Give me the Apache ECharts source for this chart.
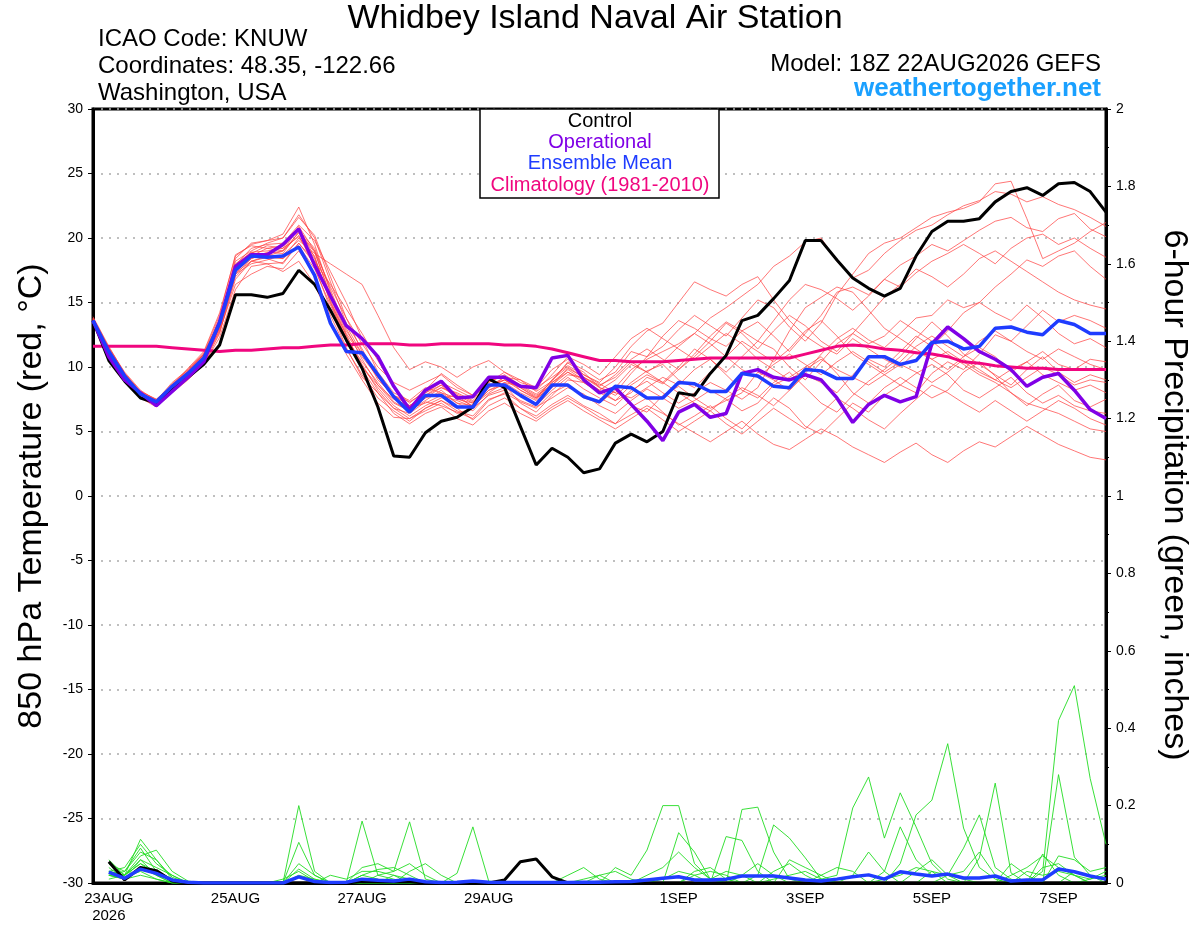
<!DOCTYPE html>
<html><head><meta charset="utf-8">
<script src="https://cdn.jsdelivr.net/npm/echarts/dist/echarts.min.js"></script>
<style>html,body{margin:0;padding:0;background:#fff}#chart{width:1200px;height:927px}</style>
</head><body><div id="chart"></div>
<script>
// ---------- axis / labels ----------
const forecastHours = []; for (let h = 0; h <= 384; h += 6) forecastHours.push(String(h));
const tickIndex = [1, 9, 17, 25, 37, 45, 53, 61];
const tickText = ['23AUG\n2026', '25AUG', '27AUG', '29AUG', '1SEP', '3SEP', '5SEP', '7SEP'];

// ---------- 850 hPa temperature (°C), 6-hourly from 18Z 22AUG ----------
const control = [13.6,10.5,8.9,7.6,7.2,8.2,9.2,10.2,11.7,15.6,15.6,15.4,15.7,17.5,16.4,14.4,12.1,9.9,6.9,3.1,3.0,4.9,5.8,6.1,6.9,9.1,8.4,5.4,2.4,3.7,3.0,1.8,2.1,4.1,4.8,4.2,5.0,8.0,7.8,9.5,10.9,13.6,14.0,15.3,16.7,19.8,19.8,18.3,16.9,16.1,15.5,16.1,18.6,20.5,21.3,21.3,21.5,22.8,23.6,23.9,23.3,24.2,24.3,23.6,22.0];
const operational = [13.6,10.8,9.0,8.0,7.0,8.1,9.2,10.4,13.5,17.8,18.7,18.7,19.5,20.7,17.9,15.5,13.2,12.2,10.8,8.5,6.7,8.2,8.9,7.6,7.7,9.2,9.2,8.5,8.4,10.7,10.9,9.0,8.0,8.4,7.1,5.8,4.3,6.5,7.1,6.1,6.4,9.5,9.8,9.2,9.0,9.4,9.0,7.6,5.7,7.1,7.8,7.3,7.7,11.8,13.1,12.2,11.2,10.6,9.8,8.5,9.2,9.5,8.2,6.7,6.0];
const ensembleMean = [13.6,11.2,9.3,7.9,7.3,8.5,9.5,10.7,13.4,17.5,18.6,18.5,18.6,19.3,17.1,13.4,11.2,11.1,9.4,7.7,6.5,7.8,7.8,6.9,6.9,8.6,8.6,7.8,7.1,8.6,8.6,7.7,7.3,8.5,8.4,7.6,7.6,8.8,8.7,8.1,8.1,9.5,9.3,8.5,8.4,9.8,9.7,9.1,9.1,10.8,10.8,10.2,10.5,11.9,12.0,11.4,11.6,13.0,13.1,12.7,12.5,13.6,13.3,12.6,12.6];
const climatology = [11.6,11.6,11.6,11.6,11.6,11.5,11.4,11.3,11.2,11.3,11.3,11.4,11.5,11.5,11.6,11.7,11.7,11.8,11.8,11.8,11.7,11.7,11.8,11.8,11.8,11.8,11.7,11.7,11.6,11.4,11.1,10.8,10.5,10.5,10.4,10.4,10.4,10.5,10.6,10.7,10.7,10.7,10.7,10.7,10.7,11.0,11.3,11.6,11.7,11.6,11.4,11.3,11.1,11.0,10.8,10.4,10.3,10.1,10.0,9.9,9.9,9.8,9.8,9.8,9.8];

const member01 = [13.8,11.4,9.2,7.6,7.0,8.6,9.9,11.2,14.2, 18.6,19.5,19.8,20.3,22.4, 19.5,15.8,12.8,11.0,9.2,7.6,6.9, 8.0,8.6,7.5,7.2,8.9,9.3,8.2,7.5,9.0,10.3,9.6,8.4,8.0,9.5,10.8,11.6, 12.9,14.0,13.2,12.4,13.8,15.2,14.6,13.1,12.0,13.4,15.6,17.2,18.8,19.6, 20.0,20.8,21.6,22.0,22.3,22.8,24.2,24.4,21.5,18.4,19.0,19.6,20.5,21.2];
const member02 = [13.4,11.0,9.0,7.8,7.4,8.8,9.8,11.0,13.0, 17.0,18.2,18.6,19.0,20.8, 18.5,15.0,12.5,10.0,8.4,7.0,6.2, 7.0,7.6,7.8,6.9,8.2,8.6,7.2,6.5,7.8,9.0,8.8,8.0,8.4,9.8,10.6,11.2, 11.8,12.6,13.8,14.6,15.5,16.4,17.8,18.6,19.7,20.0,18.2,16.9,17.5,18.8, 19.8,20.6,21.0,21.8,22.5,22.9,23.6,23.4,22.8,23.2,22.6,22.2,21.6,20.9];
const member03 = [13.7,11.3,9.5,8.1,7.5,8.3,9.2,10.4,12.9, 17.8,18.9,18.4,18.0,19.6, 18.2,16.4,14.5,12.6,10.5,8.4,7.2, 8.2,9.5,8.6,7.8,8.5,9.2,9.0,8.1,8.9,10.4,9.8,9.0,9.6,11.2,10.8,12.4, 13.6,13.0,12.2,11.6,12.8,13.5,12.4,11.2,12.6,14.0,15.8,16.2,15.6,16.8, 17.9,18.6,19.5,19.0,19.8,20.6,21.3,21.6,20.8,20.5,21.5,21.9,20.7,20.1];
const member04 = [13.5,11.1,9.3,7.8,7.1,8.4,9.6,10.9,13.8, 17.9,19.2,19.5,19.6,21.0, 19.8,17.4,15.0,12.2,9.6,8.0,7.4, 8.4,8.0,7.2,7.0,8.0,8.8,8.5,7.8,8.6,9.6,9.0,8.2,7.4,8.0,9.2,8.7, 9.8,11.0,12.4,13.5,12.8,12.0,13.6,15.2,16.4,16.0,15.3,14.4,15.5,16.8, 16.2,17.3,18.2,18.8,19.5,18.8,18.0,19.2,20.0,20.3,19.5,20.0,19.2,18.5];
const member05 = [13.6,11.2,9.1,7.7,7.2,8.7,9.8,11.1,14.0, 18.7,19.4,19.2,19.0,20.2, 17.8,14.5,11.5,9.2,8.0,6.8,6.4, 7.3,7.0,6.5,6.0,7.4,8.0,7.3,6.8,8.0,8.6,7.6,7.2,8.2,7.0,6.5,7.8, 8.5,7.6,6.8,7.4,8.0,9.6,9.0,8.2,9.5,11.0,12.2,13.0,12.1,11.5, 12.6,13.8,14.0,15.2,14.6,15.0,16.2,17.2,18.3,17.8,18.6,19.0,17.8,16.8];
const member06 = [13.5,11.0,9.2,8.0,7.4,8.2,9.4,10.6,12.8, 16.4,17.2,17.8,17.6,19.0, 17.2,14.0,11.4,9.4,7.6,6.6,5.8, 6.8,7.4,6.8,5.9,7.0,7.6,6.8,6.2,7.1,7.8,7.0,6.4,5.6,6.9,7.6,6.5, 5.5,6.2,7.0,6.0,5.2,6.4,7.6,6.8,5.4,4.8,6.0,7.2,6.5,7.8, 8.6,8.0,9.5,10.4,9.8,11.0,12.5,12.0,13.2,14.4,13.5,14.0,13.6,13.0];
const member07 = [13.7,11.4,9.4,8.0,7.3,8.4,9.4,10.5,13.1, 17.4,18.4,18.9,18.8,20.5, 19.0,16.2,13.8,11.8,10.0,8.8,8.2, 8.8,9.4,8.4,7.8,8.8,9.6,9.0,8.4,9.8,10.6,9.4,8.8,10.0,11.6,12.8,13.4, 15.0,16.6,16.0,15.5,16.4,17.0,15.2,13.6,12.4,11.6,11.0,12.2,11.4,10.6, 10.0,11.2,10.6,9.8,10.8,11.5,10.8,9.6,10.4,11.2,10.2,9.8,10.6,10.4];
const member08 = [13.8,11.5,9.6,8.2,7.4,8.1,9.1,10.2,12.6, 17.2,18.0,18.3,18.7,19.8, 18.8,18.0,17.2,16.4,14.0,11.5,9.8, 10.4,10.0,9.2,10.0,10.5,9.6,8.8,8.4,9.2,10.1,9.4,8.7,8.0,7.6,8.4,9.2, 8.6,9.8,10.6,9.4,8.2,7.6,8.8,9.6,8.4,7.2,6.5,7.8,8.9,9.8, 10.8,12.2,13.5,12.4,11.0,10.2,9.4,8.6,9.8,10.8,9.6,8.8,9.4,9.0];
const member09 = [13.4,11.0,9.1,7.6,6.9,8.0,9.0,10.2,12.3, 16.0,17.8,18.0,17.4,18.2, 16.4,13.6,11.0,9.0,7.2,6.1,6.0, 6.6,7.2,6.4,6.8,7.8,8.2,7.4,6.9,7.6,8.4,7.9,7.0,6.4,7.4,8.3,7.6, 6.8,7.4,8.2,7.5,6.6,7.2,8.6,9.2,10.0,10.8,9.5,8.0,7.2,8.4, 9.2,8.4,7.6,8.2,9.6,10.4,9.3,8.0,7.0,7.9,8.6,7.4,6.9,7.5];
const member10 = [13.9,11.6,9.5,8.1,7.5,8.6,9.7,11.0,13.6, 18.2,19.0,19.6,20.0,21.6, 20.2,17.0,13.8,11.2,9.0,7.8,7.0, 7.8,8.4,8.0,7.4,8.6,9.0,8.2,7.6,8.4,9.4,9.2,8.4,7.8,8.8,9.7,10.2, 9.0,8.4,9.6,10.8,12.0,11.2,10.4,11.4,12.8,13.6,12.4,11.0,10.2,9.4, 8.6,9.5,10.2,9.4,8.2,7.6,8.4,9.2,8.0,7.2,7.8,7.0,6.6,6.4];
const member11 = [13.6,11.2,9.4,8.0,7.2,8.3,9.5,10.7,13.2, 17.6,18.8,18.7,18.4,20.0, 18.6,15.0,12.0,9.8,8.0,6.4,5.6, 6.4,6.9,6.0,5.5,6.6,7.2,6.4,5.8,6.7,7.4,6.6,5.9,5.2,6.0,6.8,5.9, 5.0,5.8,6.6,5.6,4.8,5.8,6.8,6.0,5.2,6.4,7.6,6.8,5.9,5.2, 6.4,7.5,8.6,8.0,7.2,6.5,7.4,6.6,5.8,6.6,7.4,6.8,6.0,5.5];
const member12 = [13.5,11.1,9.2,7.9,7.3,8.5,9.6,10.8,13.5, 17.6,18.6,19.2,19.4,20.6, 19.2,16.0,13.0,10.6,8.6,7.2,6.6, 7.6,8.0,7.6,7.0,8.2,8.8,8.0,7.4,8.8,9.8,9.0,8.2,9.0,10.2,9.6,8.8, 10.0,11.4,10.6,9.6,10.8,12.0,11.4,10.0,9.0,10.4,11.8,12.6,11.8,12.4, 13.6,12.8,12.0,11.0,10.2,9.4,8.8,8.0,7.2,6.8,6.4,5.8,5.2,5.0];
const member13 = [13.6,11.3,9.3,7.9,7.3,8.6,9.7,11.0,13.7, 18.0,18.9,19.0,19.2,20.9, 19.0,15.4,12.4,10.2,8.2,6.8,6.0, 6.8,7.4,6.6,6.2,7.5,7.9,6.8,6.0,6.9,7.6,6.9,6.1,5.6,6.3,7.0,6.4, 5.6,4.9,4.2,5.0,5.8,4.8,4.0,3.6,4.4,5.2,4.6,3.8,3.2,2.6, 3.4,4.1,3.2,2.6,3.5,4.2,3.8,4.6,5.4,4.7,4.0,3.5,3.0,2.8];
const member14 = [13.7,11.2,9.3,7.8,7.1,8.2,9.3,10.4,12.7, 16.8,18.2,18.5,18.4,19.4, 17.6,14.8,12.2,10.4,8.8,7.3,6.6, 7.4,8.2,7.2,6.6,7.9,8.4,7.8,7.0,8.2,9.2,8.3,7.6,7.0,8.2,8.9,8.0, 7.2,8.0,8.8,8.2,7.5,8.4,10.6,12.8,14.6,15.4,16.2,15.8,14.4,13.0, 12.2,11.4,10.6,11.2,10.4,9.6,9.0,9.8,10.4,9.4,8.8,8.2,8.6,8.0];
const member15 = [13.5,11.0,9.2,7.9,7.3,8.4,9.5,10.7,13.2, 17.3,18.2,18.0,18.1,19.6, 18.0,15.6,13.2,11.0,9.4,7.8,7.3, 8.0,8.8,8.2,7.6,8.4,9.2,8.6,7.9,8.8,9.6,8.8,8.0,7.4,8.6,9.4,8.8, 8.0,7.2,6.6,7.6,8.4,7.8,7.0,8.2,9.4,8.8,8.0,9.4,10.6,10.0, 11.2,12.4,11.6,12.8,14.2,15.0,14.2,13.6,14.8,13.8,12.6,11.8,12.2,11.5];
const member16 = [13.6,11.3,9.4,8.0,7.4,8.5,9.6,10.8,13.3, 17.7,18.8,19.4,19.2,20.1, 18.4,15.2,12.2,10.0,8.6,7.5,7.0, 7.8,8.6,7.9,7.3,8.4,9.0,8.4,7.7,8.6,9.9,9.2,8.5,9.4,10.6,11.4,10.6, 9.8,10.8,12.0,13.4,12.6,11.4,12.8,14.0,13.2,12.0,11.2,12.6,14.0,15.4, 16.4,17.6,17.0,16.2,17.2,18.4,19.0,18.2,17.4,16.6,15.8,15.2,14.8,14.5];
const member17 = [13.4,11.0,9.0,7.7,7.2,8.3,9.3,10.5,13.0, 17.2,18.4,18.8,19.0,20.4, 18.9,15.6,12.6,10.8,9.2,7.6,6.8, 7.2,7.8,7.4,6.9,8.4,9.0,8.4,7.6,9.0,10.0,9.2,8.6,9.2,10.4,9.6,10.4, 11.6,12.6,11.8,10.8,9.8,9.2,10.2,11.0,10.2,9.4,10.4,11.2,10.4,9.6, 10.4,11.6,12.4,11.6,10.8,12.0,12.8,12.0,11.2,10.6,11.4,10.8,10.2,9.8];
const member18 = [13.8,11.5,9.5,8.0,7.3,8.5,9.7,10.9,13.4, 18.4,19.6,19.8,20.0,21.8, 20.0,16.6,13.4,11.4,9.2,7.8,7.0, 7.6,8.4,7.8,7.2,8.8,9.4,8.6,8.2,9.4,10.8,10.2,9.4,10.8,12.2,13.0,12.2, 11.4,10.6,11.6,12.6,11.8,10.6,9.8,9.0,9.8,10.6,9.8,9.2,8.6,9.4, 10.2,9.6,8.8,9.6,10.6,9.8,9.0,8.4,9.2,10.0,9.4,8.6,9.0,8.8];

// ---------- 6-hour precipitation (inches) ----------
const precipControl = [null,.055,.008,.04,.032,.005,0,0,0,0,0,0,0, 0,0,0,0,.004,.003,.004,.003,0,0,0,0,0, .008,.055,.062,.016,0,0,.002,0,0,0,0,0,0, 0,0,0,0,0,0,0,0,0,0,0,0,0, 0,0,0,0,0,0,0,0,0,0,0,0,0];
const precipMean = [null,.028,.012,.036,.025,.008,.002,0,0,0,0,0,0, .016,.004,.001,.002,.01,.007,.005,.01,.003,.001,.002,.005,.002, .001,.001,.001,.001,.001,.002,.002,.003,.004,.008,.012,.016,.008, .008,.01,.018,.018,.018,.013,.008,.005,.01,.016,.021,.01,.029, .023,.018,.023,.013,.013,.018,.005,.008,.008,.036,.029,.018,.01];
const precip01 = [null,.03,.02,.113,.06,.01,0,0,0,0,0,0,0, .2,.03,0,0,0,0,0,0,0,0,0,0,0, 0,0,0,0,0,0,0,.04,.02,.085,.2,.2,.05, .01,0,0,0,0,0,0,0,0,0,0,0,0, 0,0,0,0,0,0,0,0,.03,.42,.51,.27,.10];
const precip02 = [null,.05,.02,.07,.085,.03,.005,0,0,0,0,0,0, .105,.02,0,0,.02,.01,0,0,0,0,0,0,0, 0,0,0,0,0,0,0,0,0,0,0,.13,.08, .01,0,0,0,0,0,0,0,0,.02,.08,.03,0, 0,0,0,0,0,0,0,0,0,.28,.067,.02,.01];
const precip03 = [null,.02,.03,.09,.03,.01,0,0,0,0,0,0,0, .036,.01,0,0,.16,.02,.01,0,0,0,0,0,0, 0,0,0,0,0,0,0,0,0,0,0,0,0, 0,.12,.11,.03,0,0,0,0,0,0,0,0,0, 0,0,0,0,.065,.258,.026,0,0,0,0,0,0];
const precip04 = [null,.04,.01,.06,.04,.02,0,0,0,0,0,0,0, 0,0,0,0,0,.02,.03,.158,.01,0,0,0,0, 0,0,0,0,0,0,0,0,0,0,0,0,0, 0,0,.19,.196,.08,.01,0,0,0,0,0,0,0, .03,.06,.02,0,0,0,0,0,.075,.02,0,0,0];
const precip05 = [null,.01,.02,.05,.02,.01,0,0,0,0,0,0,.01, .03,.005,0,0,0,0,0,0,0,0,.025,.145,.005, 0,0,0,0,0,0,0,0,0,0,0,0,0, 0,0,0,.02,.15,.116,.065,.01,0,0,0,0,0, 0,0,0,0,0,0,0,.03,.02,.03,.02,0,0];
const precip06 = [null,.03,.04,.1,.05,.02,0,0,0,0,0,0,0, 0,0,.02,.01,.03,.03,.02,0,0,0,0,0,0, 0,0,0,0,0,.01,.02,0,0,0,0,0,0, 0,0,0,0,0,0,0,.01,.02,.194,.274,.116,.233, .145,.05,.01,0,0,0,0,0,0,0,0,0,0];
const precip07 = [null,.02,.01,.04,.02,0,0,0,0,0,0,0,0, 0,0,0,0,.02,.035,.04,.02,0,0,0,0,0, 0,0,0,0,.02,.04,.01,0,0,0,0,0,0, 0,0,0,0,0,0,0,0,0,0,0,.03,.145, .06,.02,.02,.03,.08,.02,0,0,.04,.05,.02,0,0];
const precip08 = [null,.05,.03,.08,.06,.015,0,0,0,0,0,0,0, 0,0,0,0,0,0,0,0,0,0,0,0,0, 0,0,0,0,0,0,0,0,0,0,.01,.03,.02, 0,0,0,0,0,0,0,0,0,0,0,0,.05, .176,.214,.36,.142,.04,.01,0,0,0,0,0,.01,.03];
const precip09 = [null,.02,.015,.03,.01,0,0,0,0,0,0,0,0, .02,.01,0,0,0,0,.02,.01,0,0,0,0,0, 0,0,0,0,0,0,0,0,0,0,0,0,.02, .03,.02,0,0,.03,.05,.02,0,0,0,0,0,0, 0,0,.02,.09,.176,.04,.01,0,0,0,0,0,0];
const precip10 = [null,.03,.02,.06,.02,0,0,0,0,0,0,0,0, 0,0,0,0,0,0,0,0,0,0,0,0,0, 0,0,0,0,0,0,.02,.03,.01,0,0,0,.03, .04,.01,0,0,.01,.02,.03,.01,0,0,0,.01,.02, .04,.03,0,0,0,0,.02,.04,.07,.04,.02,.01,.02];
const precip11 = [null,.06,.02,.05,.03,.01,0,0,0,0,0,0,0, .05,.02,0,0,.04,.05,.03,.05,.02,0,0,0,0, 0,0,0,0,0,0,0,0,0,.02,.04,.08,.04, .01,0,.02,.05,.02,0,0,.02,.04,.03,0,0,0, 0,0,0,0,0,0,.05,.02,0,0,.03,.02,0];
const precip12 = [null,.02,.01,.02,.01,0,0,0,0,0,0,0,0, 0,0,0,0,0,0,0,.03,.05,.02,0,0,0, 0,0,0,0,0,0,0,0,0,0,0,0,0, .01,.03,.02,0,0,.06,.04,.02,0,0,0,0,0, 0,.03,.02,.01,0,0,0,0,0,.07,.06,.03,.04];

const tempMembers = [member01,member02,member03,member04,member05,member06,member07,member08,member09,member10,member11,member12,member13,member14,member15,member16,member17,member18];
const precipMembers = [precip01,precip02,precip03,precip04,precip05,precip06,precip07,precip08,precip09,precip10,precip11,precip12];

// ---------- chart ----------
const FONT = '"Liberation Sans", Arial, Helvetica, sans-serif';
const chart = echarts.init(document.getElementById('chart'), null, {renderer: 'canvas'});

function line(data, axis, color, width, z, opacity) {
  return {type: 'line', data: data, yAxisIndex: axis, symbol: 'none', silent: true, z: z,
    lineStyle: {color: color, width: width, opacity: opacity == null ? 1 : opacity},
    emphasis: {disabled: true}};
}
function txt(text, x, y, size, color, align, extra) {
  return Object.assign({type: 'text', x: x, y: y, z: 120,
    style: {text: text, fill: color, font: size + 'px ' + FONT, textAlign: align, align: align,
      textVerticalAlign: 'middle', verticalAlign: 'middle'}}, extra || {});
}

const series = [];
tempMembers.forEach(d => series.push(line(d, 0, '#ff4040', 0.9, 2, 0.8)));
precipMembers.forEach(d => series.push(line(d, 1, '#22dd22', 0.9, 3, 1)));
series.push(line(climatology, 0, '#f0067f', 3, 5));
series.push(line(precipControl, 1, '#000000', 3, 6));
series.push(line(precipMean, 1, '#1f3cff', 3.5, 7));
series.push(line(control, 0, '#000000', 3, 8));
series.push(line(operational, 0, '#8000e6', 3.5, 9));
series.push(line(ensembleMean, 0, '#1f3cff', 3.5, 10));

const boldTitle = txt('weathertogether.net', 1101, 89, 26, '#1aa0ff', 'right');
boldTitle.style.font = 'bold 26px ' + FONT;

const option = {
  animation: false,
  backgroundColor: '#ffffff',
  grid: {left: 93, right: 94, top: 109, bottom: 44, show: true, borderColor: '#000', borderWidth: 3, backgroundColor: 'transparent'},
  xAxis: {
    type: 'category', data: forecastHours, boundaryGap: false,
    axisLine: {show: true, onZero: false, lineStyle: {color: '#000', width: 3}},
    axisTick: {show: false},
    axisLabel: {
      interval: (i) => tickIndex.indexOf(i) >= 0,
      formatter: (v, i) => { const k = tickIndex.indexOf(i); return k >= 0 ? tickText[k] : ''; },
      color: '#000', fontSize: 15, fontFamily: FONT, margin: 7, lineHeight: 17
    },
    splitLine: {show: false}
  },
  yAxis: [
    {type: 'value', min: -30, max: 30, interval: 5, position: 'left',
      axisLine: {show: true, onZero: false, lineStyle: {color: '#000', width: 3}},
      axisTick: {show: true, length: 5, lineStyle: {color: '#000', width: 1}},
      axisLabel: {color: '#000', fontSize: 14, fontFamily: FONT, margin: 10},
      splitLine: {show: true, lineStyle: {color: '#aaaaaa', type: [2, 6], width: 1.5}}},
    {type: 'value', min: 0, max: 2, interval: 0.2, position: 'right',
      axisLine: {show: true, onZero: false, lineStyle: {color: '#000', width: 3}},
      axisTick: {show: true, length: 5, lineStyle: {color: '#000', width: 1}},
      minorTick: {show: true, splitNumber: 2, length: 3, lineStyle: {color: '#000', width: 1}},
      axisLabel: {color: '#000', fontSize: 14, fontFamily: FONT, margin: 10,
        formatter: (v) => String(Math.round(v * 10) / 10)},
      splitLine: {show: false}}
  ],
  graphic: [
    txt('Whidbey Island Naval Air Station', 595, 19, 34, '#000', 'center'),
    txt('ICAO Code: KNUW', 98, 39, 24, '#000', 'left'),
    txt('Coordinates: 48.35, -122.66', 98, 66, 24, '#000', 'left'),
    txt('Washington, USA', 98, 93, 24, '#000', 'left'),
    txt('Model: 18Z 22AUG2026 GEFS', 1101, 64, 24, '#000', 'right'),
    boldTitle,
    {type: 'rect', z: 110, shape: {x: 480, y: 109, width: 239, height: 89},
      style: {fill: '#fff', stroke: '#000', lineWidth: 1.5}},
    txt('Control', 600, 121, 20, '#000', 'center'),
    txt('Operational', 600, 142, 20, '#8000e6', 'center'),
    txt('Ensemble Mean', 600, 163, 20, '#1f3cff', 'center'),
    txt('Climatology (1981-2010)', 600, 185, 20, '#f0067f', 'center'),
    txt('850 hPa Temperature (red, °C)', 32, 496, 34, '#000', 'center', {rotation: Math.PI / 2}),
    txt('6-hour Precipitation (green, inches)', 1174, 495, 34, '#000', 'center', {rotation: -Math.PI / 2})
  ],
  series: series
};
chart.setOption(option);
</script></body></html>
